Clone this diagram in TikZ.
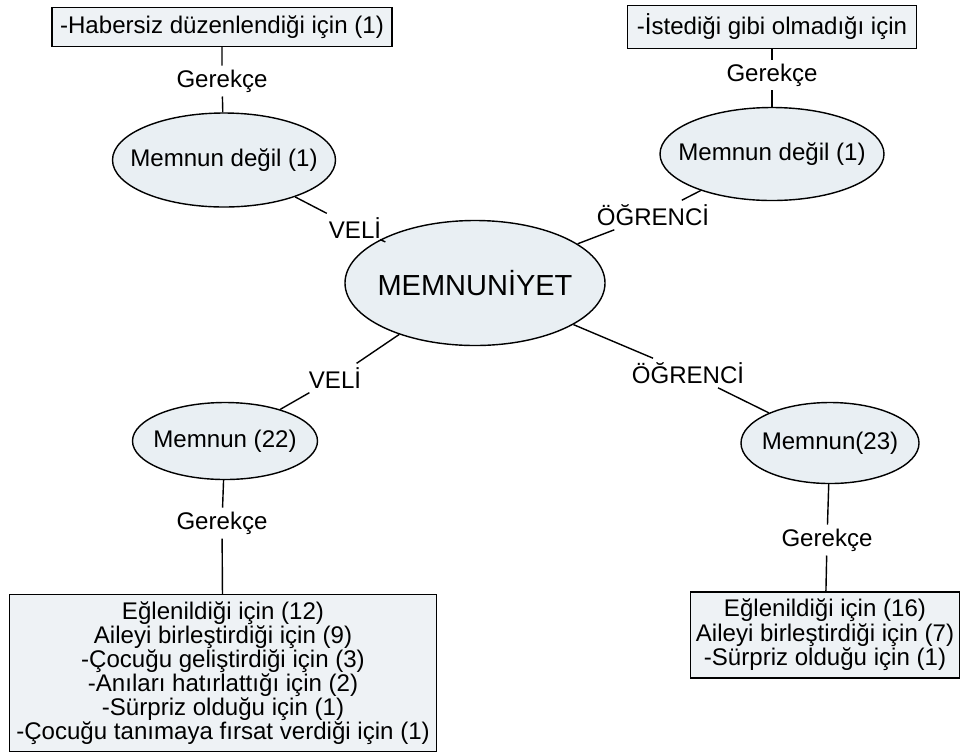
\documentclass[tikz,border=0pt]{standalone}
\usepackage{fontspec}
\setmainfont{Liberation Sans}
\usetikzlibrary{shapes.geometric}
\definecolor{kutu}{HTML}{EEF2F5}
\definecolor{elips}{HTML}{E9EFF3}

\begin{document}
\begin{tikzpicture}[line width=0.8pt,
  gerekce/.style={rectangle,draw,fill=kutu,align=center,inner xsep=3pt,inner ysep=2pt,
    font=\fontsize{13.7}{15}\selectfont},
  tema/.style={ellipse,draw,fill=elips,inner xsep=-0.3cm,inner ysep=0pt,font=\fontsize{13.7}{15}\selectfont},
  etiket/.style={inner sep=2pt,font=\fontsize{13.7}{15}\selectfont}]
\useasboundingbox (0,0) rectangle (19.2,-15.06);
% merkez
\node[tema,minimum width=5.2cm,minimum height=2.5cm,font=\fontsize{16.5}{18}\selectfont] (memnuniyet) at (9.5,-5.66) {MEMNUNİYET};
% veli - memnun degil
\node[tema,minimum width=4.46cm,minimum height=1.88cm] (veliDegil) at (4.48,-3.2) {Memnun değil (1)};
\node[gerekce,minimum width=6.8cm,minimum height=0.78cm] (veliDegilNeden) at (4.44,-0.54) {-Habersiz düzenlendiği için (1)};
\node[etiket] (g1) at (4.44,-1.62) {Gerekçe};
\node[etiket] (veli1) at (7.1,-4.56) {VELİ};
\draw (veliDegilNeden) -- (g1) -- (veliDegil);
\draw (veliDegil) -- (veli1) -- (memnuniyet);
% ogrenci - memnun degil
\node[tema,minimum width=4.48cm,minimum height=1.86cm] (ogrDegil) at (15.44,-3.08) {Memnun değil (1)};
\node[gerekce,minimum width=5.78cm,minimum height=0.86cm] (ogrDegilNeden) at (15.44,-0.54) {-İstediği gibi olmadığı için};
\node[etiket] (g2) at (15.44,-1.5) {Gerekçe};
\node[etiket] (ogr1) at (13.06,-4.3) {ÖĞRENCİ};
\draw (ogrDegilNeden) -- (g2) -- (ogrDegil);
\draw (ogrDegil) -- (ogr1) -- (memnuniyet);
% veli - memnun
\node[tema,minimum width=3.7cm,minimum height=1.54cm] (veliMemnun) at (4.5,-8.82) {Memnun (22)};
\node[etiket] (veli2) at (6.7,-7.56) {VELİ};
\node[etiket] (g3) at (4.44,-10.46) {Gerekçe};
\node[gerekce,minimum width=8.54cm,minimum height=3.14cm,font=\fontsize{13.7}{13.6}\selectfont] (veliNeden) at (4.46,-13.46)
  {Eğlenildiği için (12)\\Aileyi birleştirdiği için (9)\\-Çocuğu geliştirdiği için (3)\\-Anıları hatırlattığı için (2)\\-Sürpriz olduğu için (1)\\-Çocuğu tanımaya fırsat verdiği için (1)};
\draw (memnuniyet) -- (veli2) -- (veliMemnun);
\draw (veliMemnun) -- (g3) -- (veliNeden);
% ogrenci - memnun
\node[tema,minimum width=3.56cm,minimum height=1.62cm] (ogrMemnun) at (16.6,-8.86) {Memnun(23)};
\node[etiket] (ogr2) at (13.76,-7.46) {ÖĞRENCİ};
\node[etiket] (g4) at (16.54,-10.8) {Gerekçe};
\node[gerekce,minimum width=5.32cm,minimum height=1.72cm,font=\fontsize{13.7}{12.6}\selectfont] (ogrNeden) at (16.5,-12.7)
  {Eğlenildiği için (16)\\Aileyi birleştirdiği için (7)\\-Sürpriz olduğu için (1)};
\draw (memnuniyet) -- (ogr2) -- (ogrMemnun);
\draw (ogrMemnun) -- (g4) -- (ogrNeden);
\end{tikzpicture}
\end{document}
